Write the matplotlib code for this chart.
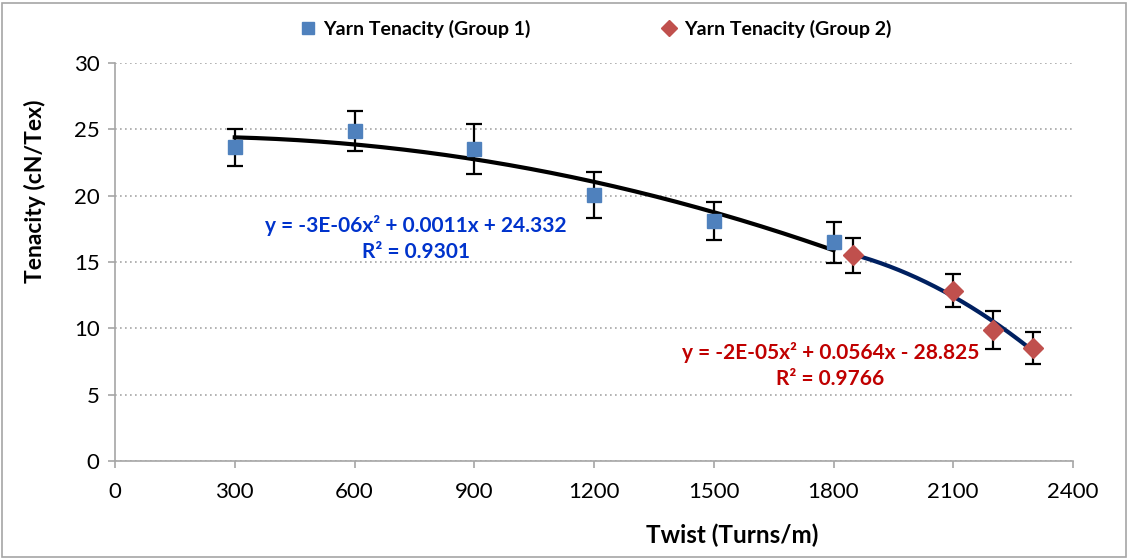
import numpy as np
import matplotlib
matplotlib.use("Agg")
import matplotlib.pyplot as plt
from matplotlib.patches import Rectangle

plt.rcParams['font.family'] = ['Lato', 'DejaVu Sans']

# Data
twist_g1 = [300, 600, 900, 1200, 1500, 1800]
tenacity_g1 = [23.66, 24.87, 23.5, 20.05, 18.1, 16.5]
err_g1 = [1.4, 1.5, 1.9, 1.7, 1.45, 1.55]

twist_g2 = [1850, 2100, 2200, 2300]
tenacity_g2 = [15.5, 12.85, 9.87, 8.54]
err_g2 = [1.3, 1.25, 1.45, 1.2]

label_g1 = "Yarn Tenacity (Group 1)"
label_g2 = "Yarn Tenacity (Group 2)"
eq_g1 = "y = -3E-06x² + 0.0011x + 24.332\nR² = 0.9301"
eq_g2 = "y = -2E-05x² + 0.0564x - 28.825\nR² = 0.9766"

xticks = list(range(0, 2401, 300))
yticks = list(range(0, 31, 5))

W, H = 1129, 559
fig = plt.figure(figsize=(W / 100, H / 100), dpi=100)
ax = fig.add_axes([115 / W, 1 - 461 / H, (1073 - 115) / W, (461 - 63) / H])

# border around chart
fig.patches.append(Rectangle((2 / W, 2 / H), 1 - 5 / W, 1 - 5 / H, transform=fig.transFigure,
                             fill=False, edgecolor='#A6A6A6', linewidth=1.2))

c1 = '#4F81BD'
c2 = '#C0504D'

# trendlines (2nd order polynomial fits)
p1 = np.polyfit(twist_g1, tenacity_g1, 2)
xs1 = np.linspace(min(twist_g1), max(twist_g1), 200)
ax.plot(xs1, np.polyval(p1, xs1), color='black', lw=3, zorder=3)
p2 = np.polyfit(twist_g2, tenacity_g2, 2)
xs2 = np.linspace(min(twist_g2), max(twist_g2), 200)
ax.plot(xs2, np.polyval(p2, xs2), color='#002060', lw=3, zorder=3)

ax.errorbar(twist_g1, tenacity_g1, yerr=err_g1, fmt='none', ecolor='black',
            elinewidth=1.6, capsize=6, capthick=1.6, zorder=2)
ax.errorbar(twist_g2, tenacity_g2, yerr=err_g2, fmt='none', ecolor='black',
            elinewidth=1.6, capsize=6, capthick=1.6, zorder=2)
ax.plot(twist_g1, tenacity_g1, 's', color=c1, ms=10.5, zorder=4, label=label_g1, linestyle='none')
ax.plot(twist_g2, tenacity_g2, 'D', color=c2, ms=10, zorder=4, label=label_g2, linestyle='none')

ax.set_xlim(0, 2400)
ax.set_ylim(0, 30)
ax.set_xticks(xticks)
ax.set_yticks(yticks)
ax.tick_params(axis='both', labelsize=16, color='#A6A6A6', length=5, width=1.2,
               direction='out', labelcolor='black')
ax.tick_params(axis='x', pad=10)
ax.tick_params(axis='y', pad=6)
for s in ['top', 'right']:
    ax.spines[s].set_visible(False)
for s in ['left', 'bottom']:
    ax.spines[s].set_color('#A6A6A6')
    ax.spines[s].set_linewidth(1.2)
ax.yaxis.grid(True, linestyle=(0, (1, 2)), color='#A6A6A6', linewidth=1.2)
ax.set_axisbelow(True)

ax.set_xlabel("Twist (Turns/m)", fontsize=17.5, fontweight='bold')
ax.set_ylabel("Tenacity (cN/Tex)", fontsize=16.5, fontweight='bold')
ax.xaxis.set_label_coords((732 - 115) / 958, (461 - 524) / 398)
ax.yaxis.set_label_coords((46 - 115) / 958, (461 - 191) / 398)

ax.text(754, 16.77, eq_g1, fontsize=15, fontweight='bold', color='#0033CC',
        ha='center', va='center', linespacing=1.4)
ax.text(1792, 7.2, eq_g2, fontsize=15, fontweight='bold', color='#C00000',
        ha='center', va='center', linespacing=1.4)

leg = fig.legend(loc='center', bbox_to_anchor=(595 / W, 1 - 29 / H), ncol=2, frameon=False,
                 prop={'size': 14, 'weight': 'bold'}, columnspacing=6.6, handletextpad=0.3,
                 handlelength=1.0, markerscale=0.8)

fig.savefig("out.png", dpi=100)
